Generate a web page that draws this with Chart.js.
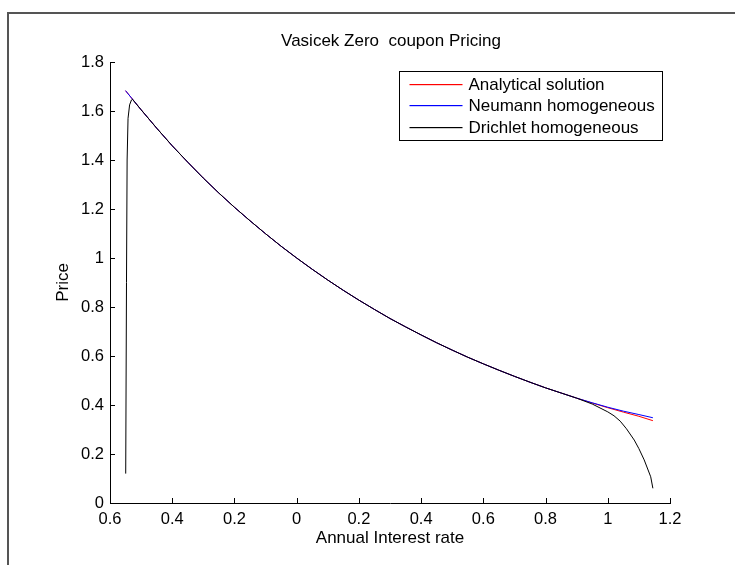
<!DOCTYPE html>
<html>
<head>
<meta charset="utf-8">
<script src="https://cdn.jsdelivr.net/npm/chart.js@4"></script>
<style>
  html, body { margin: 0; padding: 0; background: #ffffff; }
  #wrap { width: 735px; height: 565px; }
</style>
</head>
<body>
<div id="wrap"><canvas id="c" width="735" height="565"></canvas></div>
<script>
// ---------- data ----------
const chartTitle = 'Vasicek Zero  coupon Pricing';
const xTitle = 'Annual Interest rate';
const yTitle = 'Price';
const seriesNames = ['Analytical solution', 'Neumann homogeneous', 'Drichlet homogeneous'];
const seriesColors = ['#ff0000', '#0000ff', '#000000'];

const xTickValues = [-0.6, -0.4, -0.2, 0, 0.2, 0.4, 0.6, 0.8, 1.0, 1.2];
const xTickLabels = ['0.6', '0.4', '0.2', '0', '0.2', '0.4', '0.6', '0.8', '1', '1.2'];
const yTickValues = [0, 0.2, 0.4, 0.6, 0.8, 1.0, 1.2, 1.4, 1.6, 1.8];
const yTickLabels = ['0', '0.2', '0.4', '0.6', '0.8', '1', '1.2', '1.4', '1.6', '1.8'];

const rates = [-0.55, -0.5, -0.45, -0.4, -0.35, -0.3, -0.25, -0.2, -0.15, -0.1, -0.05,
  0, 0.05, 0.1, 0.15, 0.2, 0.25, 0.3, 0.35, 0.4, 0.45, 0.5, 0.55, 0.6, 0.65, 0.7,
  0.75, 0.8, 0.85, 0.9, 0.95, 1.0, 1.05, 1.1, 1.145];
const analytical = [1.683, 1.605, 1.530, 1.458, 1.391, 1.326, 1.265, 1.207, 1.152, 1.099, 1.048,
  1.000, 0.954, 0.910, 0.868, 0.828, 0.790, 0.753, 0.719, 0.686, 0.654, 0.624, 0.595, 0.568, 0.542, 0.517,
  0.493, 0.470, 0.449, 0.428, 0.408, 0.389, 0.371, 0.354, 0.336];
const neumann = [1.683, 1.605, 1.530, 1.458, 1.391, 1.326, 1.265, 1.207, 1.152, 1.099, 1.048,
  1.000, 0.954, 0.910, 0.868, 0.828, 0.790, 0.753, 0.719, 0.686, 0.654, 0.624, 0.595, 0.568, 0.542, 0.517,
  0.493, 0.470, 0.449, 0.428, 0.409, 0.391, 0.375, 0.361, 0.348];

const dirichletRates = [-0.5495, -0.547, -0.545, -0.542, -0.537, -0.531, -0.528,
  -0.5, -0.45, -0.4, -0.35, -0.3, -0.25, -0.2, -0.15, -0.1, -0.05,
  0, 0.05, 0.1, 0.15, 0.2, 0.25, 0.3, 0.35, 0.4, 0.45, 0.5, 0.55, 0.6, 0.65, 0.7,
  0.75, 0.8, 0.85, 0.9, 0.95, 1.0, 1.02, 1.04, 1.06, 1.085, 1.1, 1.117, 1.138, 1.145];
const dirichlet = [0.12, 0.90, 1.40, 1.57, 1.625, 1.645, 1.648,
  1.605, 1.530, 1.458, 1.391, 1.326, 1.265, 1.207, 1.152, 1.099, 1.048,
  1.000, 0.954, 0.910, 0.868, 0.828, 0.790, 0.753, 0.719, 0.686, 0.654, 0.624, 0.595, 0.568, 0.542, 0.517,
  0.493, 0.470, 0.449, 0.428, 0.404, 0.372, 0.356, 0.334, 0.303, 0.257, 0.222, 0.176, 0.107, 0.06];

// ---------- chart ----------
const FONT = '"Liberation Sans", Arial, Helvetica, sans-serif';
const toPts = (xs, ys) => xs.map((x, i) => ({ x: x, y: ys[i] }));

const decorPlugin = {
  id: 'decor',
  beforeDraw(chart) {
    const ctx = chart.ctx;
    ctx.save();
    ctx.fillStyle = '#ffffff';
    ctx.fillRect(0, 0, chart.width, chart.height);
    // figure frame (top and left edges visible)
    ctx.strokeStyle = '#555555';
    ctx.lineWidth = 2;
    ctx.beginPath();
    ctx.moveTo(chart.width, 13);
    ctx.lineTo(8, 13);
    ctx.lineTo(8, chart.height);
    ctx.stroke();
    ctx.restore();
  },
  afterDraw(chart) {
    const ctx = chart.ctx;
    const a = chart.chartArea;
    const xs = chart.scales.x, ys = chart.scales.y;
    ctx.save();
    // inward tick marks
    ctx.strokeStyle = '#000000';
    ctx.lineWidth = 1;
    ctx.beginPath();
    xTickValues.forEach(v => {
      const px = Math.round(xs.getPixelForValue(v)) + 0.5;
      ctx.moveTo(px, a.bottom);
      ctx.lineTo(px, a.bottom - 5);
    });
    yTickValues.forEach(v => {
      const py = Math.round(ys.getPixelForValue(v)) + 0.5;
      ctx.moveTo(a.left, py);
      ctx.lineTo(a.left + 5, py);
    });
    ctx.stroke();
    // title
    ctx.fillStyle = '#000000';
    ctx.font = '17px ' + FONT;
    ctx.textAlign = 'center';
    ctx.textBaseline = 'middle';
    ctx.fillText(chartTitle, (a.left + a.right) / 2 + 1, a.top - 21);
    // legend
    const bx = a.right - 270.5, by = a.top + 9.5, bw = 263, bh = 69;
    ctx.fillStyle = '#ffffff';
    ctx.fillRect(bx, by, bw, bh);
    ctx.strokeStyle = '#000000';
    ctx.lineWidth = 1;
    ctx.strokeRect(bx, by, bw, bh);
    ctx.font = '17px ' + FONT;
    ctx.textAlign = 'left';
    seriesNames.forEach((name, i) => {
      const ry = Math.round(by + 12 + i * 21.5);
      ctx.fillStyle = seriesColors[i];
      ctx.fillRect(bx + 10, ry, 53, 1.2);
      ctx.fillStyle = '#000000';
      ctx.fillText(name, bx + 69, ry + 1);
    });
    ctx.restore();
  }
};

new Chart(document.getElementById('c'), {
  type: 'line',
  data: {
    datasets: [
      { label: seriesNames[0], data: toPts(rates, analytical), borderColor: seriesColors[0], order: 2 },
      { label: seriesNames[1], data: toPts(rates, neumann), borderColor: seriesColors[1], order: 1 },
      { label: seriesNames[2], data: toPts(dirichletRates, dirichlet), borderColor: seriesColors[2], order: 0 }
    ]
  },
  options: {
    responsive: false,
    animation: false,
    devicePixelRatio: 1,
    elements: {
      point: { radius: 0, hoverRadius: 0 },
      line: { borderWidth: 1, tension: 0, fill: false }
    },
    layout: { padding: { left: 0, right: 65, top: 62, bottom: 0 } },
    plugins: {
      legend: { display: false },
      title: { display: false },
      tooltip: { enabled: false }
    },
    events: [],
    scales: {
      x: {
        type: 'linear',
        min: -0.6, max: 1.2,
        afterBuildTicks: s => { s.ticks = xTickValues.map(v => ({ value: v })); },
        afterFit: s => { s.height = 62; },
        grid: { display: false, drawTicks: false },
        border: { display: true, color: '#000000', width: 1 },
        ticks: {
          autoSkip: false, maxRotation: 0,
          padding: 7,
          color: '#000000',
          font: { family: FONT, size: 16.5 },
          callback: (v, i) => xTickLabels[i]
        },
        title: {
          display: true, text: xTitle, color: '#000000',
          font: { family: FONT, size: 17 },
          padding: { top: 0, bottom: 16 }
        }
      },
      y: {
        type: 'linear',
        min: 0, max: 1.8,
        afterBuildTicks: s => { s.ticks = yTickValues.map(v => ({ value: v })); },
        afterFit: s => { s.width = 110; },
        grid: { display: false, drawTicks: false },
        border: { display: true, color: '#000000', width: 1 },
        ticks: {
          autoSkip: false,
          padding: 6,
          color: '#000000',
          font: { family: FONT, size: 16.5 },
          callback: (v, i) => yTickLabels[i]
        },
        title: {
          display: true, text: yTitle, color: '#000000',
          font: { family: FONT, size: 17 },
          padding: { top: 53, bottom: 0 }
        }
      }
    }
  },
  plugins: [decorPlugin]
});
</script>
</body>
</html>
